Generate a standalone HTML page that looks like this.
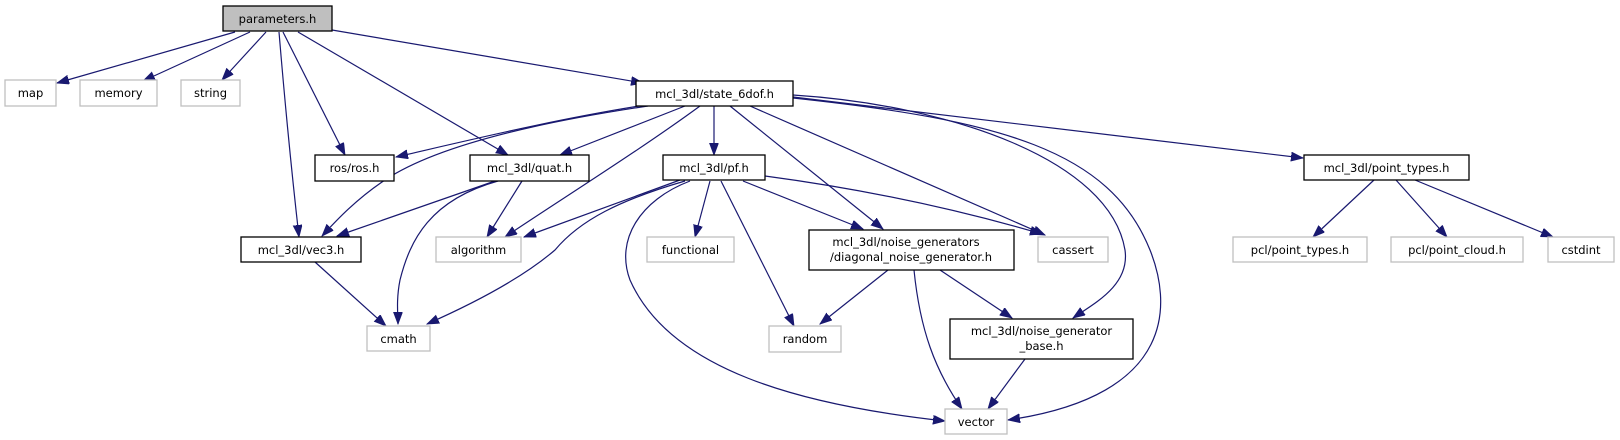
<!DOCTYPE html>
<html><head><meta charset="utf-8"><style>
html,body{margin:0;padding:0;background:#fff;width:1620px;height:440px;overflow:hidden}
svg{display:block}
text{font-family:"DejaVu Sans","Liberation Sans",sans-serif;font-size:11.5px;fill:#000;text-anchor:middle}
.e{fill:none;stroke:#191970;stroke-width:1.2}
.d{fill:#fff;stroke:#000;stroke-width:1.3}
.g{fill:#fff;stroke:#bfbfbf;stroke-width:1.3}
</style></head><body>
<svg width="1620" height="440" viewBox="0 0 1620 440" xmlns="http://www.w3.org/2000/svg">
<defs><marker id="a" markerUnits="userSpaceOnUse" markerWidth="14" markerHeight="10" refX="12" refY="4.5" orient="auto"><path d="M0,0 L12,4.5 L0,9 z" fill="#191970" stroke="#191970" stroke-width="0.8"/></marker></defs>
<g marker-end="url(#a)">
<path class="e" d="M235 32 L57 83"/>
<path class="e" d="M250 32 L143 81"/>
<path class="e" d="M266 32 L222 80"/>
<path class="e" d="M279 32 Q288 140 299 237"/>
<path class="e" d="M283 32 L345 155"/>
<path class="e" d="M298 32 L508 155"/>
<path class="e" d="M332 30 L643 83"/>
<path class="e" d="M652 104 C560 118 470 140 396 157"/>
<path class="e" d="M648 106 C520 125 430 150 385 180 C355 200 335 222 322 236"/>
<path class="e" d="M685 106 L560 155"/>
<path class="e" d="M700 106 C640 150 560 200 505 237"/>
<path class="e" d="M714 106 L714 155"/>
<path class="e" d="M730 106 L883 229"/>
<path class="e" d="M750 106 L1045 235"/>
<path class="e" d="M793 95 C950 105 1110 160 1125 250 C1130 285 1095 303 1073 318"/>
<path class="e" d="M793 98 C1000 120 1110 150 1150 250 C1170 300 1180 395 1008 420"/>
<path class="e" d="M793 97 L1303 158"/>
<path class="e" d="M495 181 L337 236"/>
<path class="e" d="M498 181 C430 200 410 240 400 280 C396 300 398 315 398 324"/>
<path class="e" d="M522 181 L487 237"/>
<path class="e" d="M315 262 L386 326"/>
<path class="e" d="M680 180 L524 237"/>
<path class="e" d="M685 181 C620 200 580 220 555 250 C520 280 470 305 427 324"/>
<path class="e" d="M690 181 C640 200 615 240 630 280 C670 370 800 405 945 421"/>
<path class="e" d="M710 181 L695 237"/>
<path class="e" d="M721 181 L794 326"/>
<path class="e" d="M743 181 L863 229"/>
<path class="e" d="M765 176 C870 190 960 210 1042 234"/>
<path class="e" d="M888 270 L820 324"/>
<path class="e" d="M914 270 C920 330 935 370 962 409"/>
<path class="e" d="M940 270 L1012 318"/>
<path class="e" d="M1025 359 L988 409"/>
<path class="e" d="M1374 180 L1313 237"/>
<path class="e" d="M1396 180 L1447 237"/>
<path class="e" d="M1415 180 L1553 237"/>
</g>
<rect x="223" y="6" width="109" height="25" fill="#bfbfbf" stroke="#000" stroke-width="1.3"/><text x="277.5" y="23">parameters.h</text>
<rect class="g" x="5" y="80" width="51" height="26"/><text x="30.5" y="97">map</text>
<rect class="g" x="80" y="80" width="77" height="26"/><text x="118.5" y="97">memory</text>
<rect class="g" x="181" y="80" width="59" height="26"/><text x="210.5" y="97">string</text>
<rect class="d" x="636" y="81" width="157" height="25"/><text x="714.5" y="98">mcl_3dl/state_6dof.h</text>
<rect class="d" x="315" y="155" width="79" height="26"/><text x="354.5" y="172">ros/ros.h</text>
<rect class="d" x="470" y="155" width="119" height="26"/><text x="529.5" y="172">mcl_3dl/quat.h</text>
<rect class="d" x="663" y="155" width="102" height="25"/><text x="714" y="172">mcl_3dl/pf.h</text>
<rect class="d" x="1304" y="155" width="165" height="25"/><text x="1386.5" y="172">mcl_3dl/point_types.h</text>
<rect class="d" x="241" y="237" width="120" height="25"/><text x="301" y="254">mcl_3dl/vec3.h</text>
<rect class="g" x="436" y="237" width="85" height="25"/><text x="478.5" y="254">algorithm</text>
<rect class="g" x="647" y="237" width="87" height="25"/><text x="690.5" y="254">functional</text>
<rect class="d" x="809" y="230" width="205" height="40"/><text x="906" y="246">mcl_3dl/noise_generators</text><text x="911" y="261">/diagonal_noise_generator.h</text>
<rect class="g" x="1038" y="237" width="70" height="25"/><text x="1073" y="254">cassert</text>
<rect class="g" x="1233" y="237" width="134" height="25"/><text x="1300" y="254">pcl/point_types.h</text>
<rect class="g" x="1391" y="237" width="132" height="25"/><text x="1457" y="254">pcl/point_cloud.h</text>
<rect class="g" x="1548" y="237" width="66" height="25"/><text x="1581" y="254">cstdint</text>
<rect class="g" x="367" y="326" width="63" height="25"/><text x="398.5" y="343">cmath</text>
<rect class="g" x="769" y="326" width="72" height="26"/><text x="805" y="343">random</text>
<rect class="d" x="950" y="319" width="183" height="40"/><text x="1041.5" y="335">mcl_3dl/noise_generator</text><text x="1041.5" y="350">_base.h</text>
<rect class="g" x="945" y="409" width="62" height="25"/><text x="976" y="426">vector</text>
</svg>
</body></html>
